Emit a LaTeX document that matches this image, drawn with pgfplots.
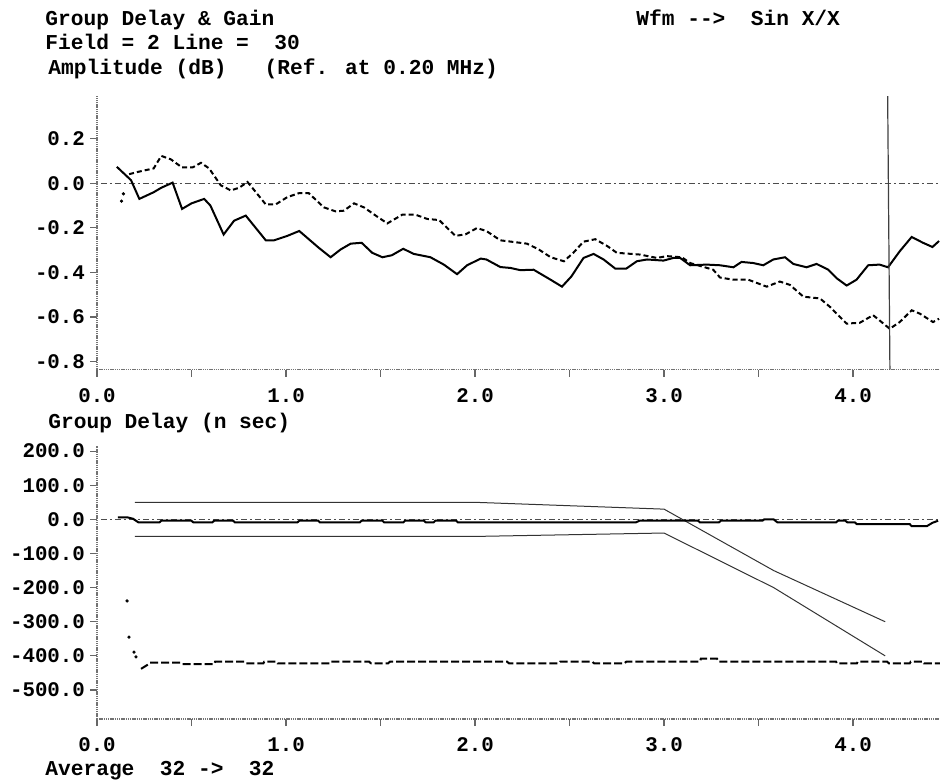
\documentclass[border=0pt]{standalone}
\usepackage{fontspec}
\setmainfont{Liberation Mono}[Ligatures=TeXOff]
\usepackage{pgfplots}
\pgfplotsset{compat=1.18}
\pgfplotsset{
  scopeax/.style={
    scale only axis,
    width=421.5pt,
    xmin=0, xmax=4.46,
    axis x line*=bottom, axis y line*=left,
    axis line style={black!55, line width=0.7pt, dash pattern=on 0.7pt off 0.4pt},
    tick align=outside,
    major tick length=3.5pt,
    tick style={black!60, line width=0.6pt},
    xtick={0,0.5,...,4},
    xticklabels={0.0,,1.0,,2.0,,3.0,,4.0},
    ticklabel style={font=\fontsize{10.4}{12}\selectfont\bfseries},
    xticklabel style={yshift=-2.5pt},
    yticklabel style={xshift=1pt},
    minor tick num=0,
  },
  zeroline/.style={black!70, line width=0.4pt, dash pattern=on 3pt off 1.5pt on 1pt off 1.5pt},
}
\begin{document}
\begin{tikzpicture}[x=1pt,y=1pt]
\useasboundingbox (0,0) rectangle (470,-390);
\tikzset{hdr/.style={anchor=base west, inner sep=0pt, font=\fontsize{10.6}{12}\selectfont\bfseries}}
\node[hdr] at (22.5,-13) {Group Delay \& Gain};
\node[hdr] at (318,-13) {Wfm -->\ \ Sin X/X};
\node[hdr] at (22.5,-25) {Field = 2 Line =\ \ 30};
\node[hdr] at (24,-37.5) {Amplitude (dB)\ \ \ (Ref. at 0.20 MHz)};
\node[hdr] at (24,-214) {Group Delay (n sec)};
\node[hdr] at (22.5,-387.5) {Average\ \ 32 ->\ \ 32};

% ---------- Amplitude ----------
\begin{axis}[scopeax,
  at={(48.5pt,-184.75pt)}, anchor=south west,
  height=136.75pt,
  ymin=-0.836, ymax=0.392,
  ytick={-0.8,-0.6,-0.4,-0.2,0,0.2},
  yticklabels={-0.8,-0.6,-0.4,-0.2,0.0,0.2},
]
\addplot[zeroline] coordinates {(0.02,0) (4.46,0)};
\addplot[black, line width=1pt] coordinates {
(0.105,0.074) (0.18,0.014) (0.224,-0.07) (0.30,-0.04) (0.34,-0.02) (0.40,0.003)
(0.45,-0.115) (0.50,-0.09) (0.567,-0.07) (0.60,-0.10) (0.67,-0.23) (0.725,-0.168)
(0.787,-0.145) (0.893,-0.256) (0.937,-0.256) (1.007,-0.236) (1.07,-0.214)
(1.174,-0.29) (1.236,-0.332) (1.289,-0.297) (1.342,-0.271) (1.40,-0.267)
(1.456,-0.312) (1.51,-0.332) (1.56,-0.323) (1.62,-0.294) (1.676,-0.317)
(1.764,-0.332) (1.835,-0.365) (1.905,-0.408) (1.958,-0.368) (2.03,-0.338)
(2.06,-0.342) (2.134,-0.376) (2.187,-0.38) (2.24,-0.39) (2.31,-0.388)
(2.40,-0.433) (2.46,-0.464) (2.51,-0.418) (2.574,-0.335) (2.627,-0.317)
(2.68,-0.342) (2.742,-0.383) (2.80,-0.383) (2.856,-0.35) (2.91,-0.342)
(2.997,-0.347) (3.05,-0.335) (3.085,-0.335) (3.138,-0.368) (3.226,-0.365)
(3.296,-0.368) (3.367,-0.377) (3.41,-0.353) (3.472,-0.358) (3.525,-0.368)
(3.578,-0.342) (3.64,-0.332) (3.684,-0.362) (3.754,-0.377) (3.807,-0.362)
(3.869,-0.388) (3.913,-0.426) (3.966,-0.459) (4.018,-0.433) (4.08,-0.368)
(4.14,-0.365) (4.185,-0.377) (4.247,-0.305) (4.31,-0.241) (4.37,-0.267)
(4.42,-0.286) (4.455,-0.259)
};
\addplot[black, only marks, mark=*, mark size=0.6pt] coordinates {(0.13,-0.08) (0.14,-0.047)};
\addplot[black, line width=1pt, dash pattern=on 2.5pt off 1.5pt] coordinates {
(0.17,0.041) (0.215,0.051) (0.30,0.067) (0.34,0.123) (0.39,0.108) (0.45,0.071)
(0.505,0.071) (0.55,0.092) (0.593,0.067) (0.655,-0.009) (0.708,-0.032)
(0.752,-0.02) (0.796,0.006) (0.83,-0.029) (0.893,-0.095) (0.945,-0.095)
(1.007,-0.062) (1.07,-0.044) (1.12,-0.044) (1.20,-0.108) (1.262,-0.126)
(1.306,-0.123) (1.36,-0.09) (1.412,-0.108) (1.483,-0.15) (1.536,-0.18)
(1.615,-0.141) (1.685,-0.141) (1.747,-0.16) (1.81,-0.165) (1.896,-0.236)
(1.95,-0.229) (2.01,-0.201) (2.06,-0.214) (2.134,-0.256) (2.275,-0.271)
(2.337,-0.297) (2.40,-0.332) (2.47,-0.35) (2.52,-0.312) (2.574,-0.262)
(2.636,-0.251) (2.70,-0.282) (2.75,-0.312) (2.874,-0.32) (2.962,-0.335)
(3.015,-0.327) (3.094,-0.332) (3.138,-0.358) (3.26,-0.388) (3.296,-0.423)
(3.367,-0.433) (3.446,-0.433) (3.543,-0.464) (3.613,-0.441) (3.666,-0.456)
(3.737,-0.509) (3.825,-0.517) (3.878,-0.555) (3.966,-0.63) (4.036,-0.626)
(4.106,-0.592) (4.194,-0.653) (4.247,-0.623) (4.31,-0.57) (4.353,-0.585)
(4.423,-0.623) (4.455,-0.608)
};
\addplot[black!75, line width=0.6pt] coordinates {(4.183,0.392) (4.195,-0.836)};
\end{axis}

% ---------- Group delay ----------
\begin{axis}[scopeax,
  at={(48.5pt,-359.5pt)}, anchor=south west,
  height=136.5pt,
  ymin=-585, ymax=215,
  ytick={-500,-400,-300,-200,-100,0,100,200},
  yticklabels={-500.0,-400.0,-300.0,-200.0,-100.0,0.0,100.0,200.0},
]
\addplot[zeroline] coordinates {(0.02,0) (4.46,0)};
\addplot[black!80, line width=0.5pt] coordinates {(0.2,50) (2.0,50) (3.0,30) (3.58,-150) (4.17,-300)};
\addplot[black!80, line width=0.5pt] coordinates {(0.2,-50) (2.0,-50) (3.0,-40) (3.58,-200) (4.17,-400)};
\addplot[black, line width=1pt] coordinates {
(0.11,6) (0.16,6) (0.19,2) (0.22,-9) (0.33,-9) (0.34,-4) (0.50,-4) (0.51,-9)
(0.61,-9) (0.62,-4) (0.72,-4) (0.73,-9) (1.06,-9) (1.07,-4) (1.17,-4) (1.18,-9)
(1.39,-9) (1.40,-4) (1.51,-4) (1.52,-9) (1.62,-9) (1.63,-4) (1.73,-4) (1.74,-9)
(1.78,-9) (1.79,-4) (1.90,-4) (1.91,-9) (2.85,-9) (2.87,-4) (3.18,-4) (3.19,-9)
(3.29,-9) (3.30,-4) (3.52,-4) (3.53,0) (3.58,0) (3.60,-9) (3.91,-9) (3.92,-4)
(3.96,-4) (3.97,-9) (4.01,-9) (4.02,-14) (4.30,-14) (4.31,-20) (4.39,-20)
(4.42,-10) (4.45,-4)
};
\addplot[black, only marks, mark=*, mark size=0.6pt] coordinates {
(0.159,-239) (0.169,-345) (0.196,-389) (0.206,-403)
};
\addplot[black, line width=1pt, dash pattern=on 4pt off 1.5pt] coordinates {
(0.233,-438) (0.265,-427) (0.28,-420) (0.44,-420) (0.45,-424) (0.62,-424)
(0.625,-417) (0.78,-417) (0.79,-422) (0.88,-422) (0.885,-417) (0.95,-417)
(0.955,-422) (1.23,-422) (1.235,-417) (1.44,-417) (1.45,-422) (1.54,-422)
(1.55,-417) (2.17,-417) (2.18,-422) (2.44,-422) (2.45,-417) (2.62,-417)
(2.63,-422) (2.79,-422) (2.80,-417) (3.19,-417) (3.195,-408) (3.28,-408)
(3.29,-417) (3.91,-417) (3.915,-422) (4.02,-422) (4.025,-417) (4.18,-417)
(4.19,-422) (4.30,-422) (4.305,-417) (4.37,-417) (4.375,-422) (4.46,-422)
};
\end{axis}
\end{tikzpicture}
\end{document}
